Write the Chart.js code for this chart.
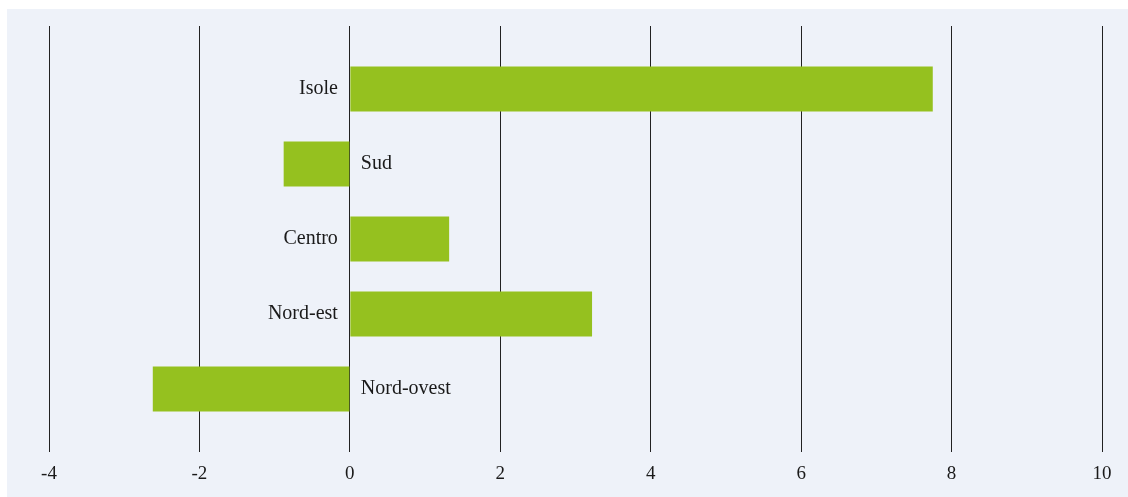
<!DOCTYPE html>
<html lang="it">
<head>
    <meta charset="UTF-8">
    <title>Variazione per ripartizione</title>
    <script src="https://cdn.jsdelivr.net/npm/chart.js"></script>
    <style>
        html, body { margin: 0; padding: 0; background: #ffffff; }
        #panel {
            position: absolute; left: 7px; top: 9px;
            width: 1121px; height: 488px;
            background: #eef2f9;
        }
    </style>
</head>
<body>
    <div id="panel"><canvas id="myChart"></canvas></div>

    <script>
        const categories = ['Isole', 'Sud', 'Centro', 'Nord-est', 'Nord-ovest'];
        const values = [7.75, -0.88, 1.32, 3.22, -2.62];
        const xTicks = [-4, -2, 0, 2, 4, 6, 8, 10];

        const barColor = '#95c11f';
        const textColor = '#1a1a1a';
        const serif = "'Liberation Serif', 'DejaVu Serif', serif";

        // category names sit next to the zero line, on the side away from the bar
        const zeroLabels = {
            id: 'zeroLabels',
            afterDatasetsDraw(chart) {
                const ctx = chart.ctx;
                const meta = chart.getDatasetMeta(0);
                const x0 = chart.scales.x.getPixelForValue(0);
                ctx.save();
                ctx.font = '20px ' + serif;
                ctx.fillStyle = textColor;
                ctx.textBaseline = 'middle';
                meta.data.forEach((bar, i) => {
                    if (values[i] >= 0) {
                        ctx.textAlign = 'right';
                        ctx.fillText(categories[i], x0 - 12, bar.y);
                    } else {
                        ctx.textAlign = 'left';
                        ctx.fillText(categories[i], x0 + 11, bar.y);
                    }
                });
                ctx.restore();
            }
        };

        const canvas = document.getElementById('myChart');
        canvas.width = 1121;
        canvas.height = 488;

        new Chart(canvas.getContext('2d'), {
            type: 'bar',
            data: {
                datasets: [{
                    data: values.map((v, i) => ({ x: v, y: i })),
                    backgroundColor: barColor,
                    borderWidth: 0,
                    barPercentage: 0.6,
                    categoryPercentage: 1
                }]
            },
            options: {
                indexAxis: 'y',
                responsive: false,
                animation: false,
                layout: { padding: { left: 42, right: 26, top: 17, bottom: 0 } },
                plugins: {
                    legend: { display: false },
                    tooltip: { enabled: false }
                },
                scales: {
                    x: {
                        type: 'linear',
                        min: -4,
                        max: 10,
                        afterBuildTicks: axis => { axis.ticks = xTicks.map(v => ({ value: v })); },
                        grid: { color: '#222222', lineWidth: 1, drawTicks: false },
                        border: { display: false },
                        ticks: {
                            padding: 13,
                            color: textColor,
                            font: { family: serif, size: 19, lineHeight: 1 },
                            maxRotation: 0
                        }
                    },
                    y: {
                        type: 'linear',
                        offset: false,
                        min: -0.84,
                        max: 4.84,
                        reverse: true,
                        display: false,
                        // one tick per category so the bar width follows the category spacing
                        afterBuildTicks: axis => { axis.ticks = categories.map((c, i) => ({ value: i })); }
                    }
                }
            },
            plugins: [zeroLabels]
        });
    </script>
</body>
</html>
